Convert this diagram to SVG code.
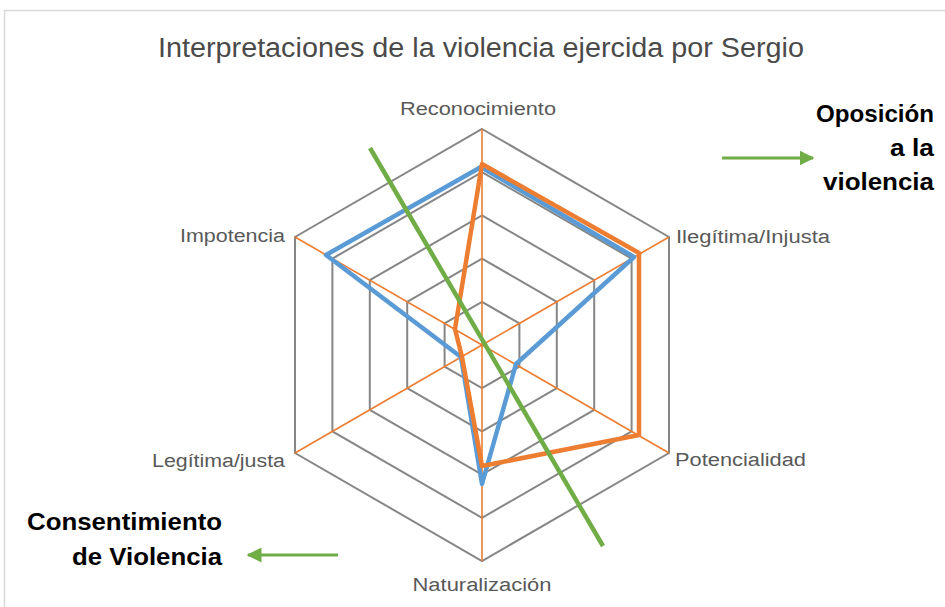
<svg xmlns="http://www.w3.org/2000/svg" width="945" height="607" viewBox="0 0 945 607">
<defs>
<style>
.ring{fill:none;stroke:#868686;stroke-width:2}
.spoke{stroke:#ED7D31;stroke-width:1.6}
.lbl{font-family:"Liberation Sans",Arial,sans-serif;font-size:18px;fill:#595959}
.bold{font-family:"Liberation Sans",Arial,sans-serif;font-size:23px;font-weight:bold;fill:#000}
.title{font-family:"Liberation Sans",Arial,sans-serif;font-size:27px;fill:#4a4a4a}
</style>
<marker id="ah" viewBox="0 0 10 10" refX="9" refY="5" markerWidth="5" markerHeight="5" orient="auto" markerUnits="strokeWidth">
<path d="M0,0 L10,5 L0,10 z" fill="#70AD47"/>
</marker>
</defs>
<rect x="0" y="0" width="945" height="607" fill="#fff"/>
<rect x="4.5" y="10.5" width="960" height="620" fill="none" stroke="#D9D9D9" stroke-width="1.5"/>
<text class="title" x="481" y="57" text-anchor="middle" textLength="646" lengthAdjust="spacingAndGlyphs">Interpretaciones de la violencia ejercida por Sergio</text>
<g id="grid">
<polygon class="ring" points="482,129 669,237 669,453 482,561 295,453 295,237"/>
<polygon class="ring" points="482,172.2 631.6,258.6 631.6,431.4 482,517.8 332.4,431.4 332.4,258.6"/>
<polygon class="ring" points="482,215.4 594.2,280.2 594.2,409.8 482,474.6 369.8,409.8 369.8,280.2"/>
<polygon class="ring" points="482,258.6 556.8,301.8 556.8,388.2 482,431.4 407.2,388.2 407.2,301.8"/>
<polygon class="ring" points="482,301.8 519.4,323.4 519.4,366.6 482,388.2 444.6,366.6 444.6,323.4"/>
<line class="spoke" x1="482" y1="345" x2="482" y2="129"/>
<line class="spoke" x1="482" y1="345" x2="669" y2="237"/>
<line class="spoke" x1="482" y1="345" x2="669" y2="453"/>
<line class="spoke" x1="482" y1="345" x2="482" y2="561"/>
<line class="spoke" x1="482" y1="345" x2="295" y2="453"/>
<line class="spoke" x1="482" y1="345" x2="295" y2="237"/>
</g>
<g id="series-blue">
<polygon points="481,167 634,257 516,364 482,484 461,357 326,255" fill="none" stroke="#5B9BD5" stroke-width="4.5" stroke-linejoin="round"/>
</g>
<g id="series-orange">
<polygon points="482,164 639,253 639,435 482,466 462,357 455,329" fill="none" stroke="#ED7D31" stroke-width="4.5" stroke-linejoin="round"/>
</g>
<g id="labels">
<text class="lbl" x="478" y="115" text-anchor="middle" textLength="156" lengthAdjust="spacingAndGlyphs">Reconocimiento</text>
<text class="lbl" x="676" y="243" textLength="154" lengthAdjust="spacingAndGlyphs">Ilegítima/Injusta</text>
<text class="lbl" x="675" y="466" textLength="131" lengthAdjust="spacingAndGlyphs">Potencialidad</text>
<text class="lbl" x="482" y="591" text-anchor="middle" textLength="139" lengthAdjust="spacingAndGlyphs">Naturalización</text>
<text class="lbl" x="285" y="242" text-anchor="end" textLength="105" lengthAdjust="spacingAndGlyphs">Impotencia</text>
<text class="lbl" x="285" y="467" text-anchor="end" textLength="133" lengthAdjust="spacingAndGlyphs">Legítima/justa</text>
</g>
<g id="connectors">
<line x1="370" y1="148" x2="603" y2="546" stroke="#70AD47" stroke-width="4.5"/>
<line x1="722" y1="158" x2="813" y2="158" stroke="#70AD47" stroke-width="3" marker-end="url(#ah)"/>
<line x1="338" y1="555" x2="248" y2="555" stroke="#70AD47" stroke-width="3" marker-end="url(#ah)"/>
</g>
<g id="note-oposicion">
<text class="bold" x="934" y="122" text-anchor="end" textLength="118" lengthAdjust="spacingAndGlyphs">Oposición</text>
<text class="bold" x="934" y="156" text-anchor="end" textLength="44" lengthAdjust="spacingAndGlyphs">a la</text>
<text class="bold" x="934" y="190" text-anchor="end" textLength="111" lengthAdjust="spacingAndGlyphs">violencia</text>
</g>
<g id="note-consentimiento">
<text class="bold" x="27" y="530" textLength="195" lengthAdjust="spacingAndGlyphs">Consentimiento</text>
<text class="bold" x="222" y="565" text-anchor="end" textLength="150" lengthAdjust="spacingAndGlyphs">de Violencia</text>
</g>
</svg>
